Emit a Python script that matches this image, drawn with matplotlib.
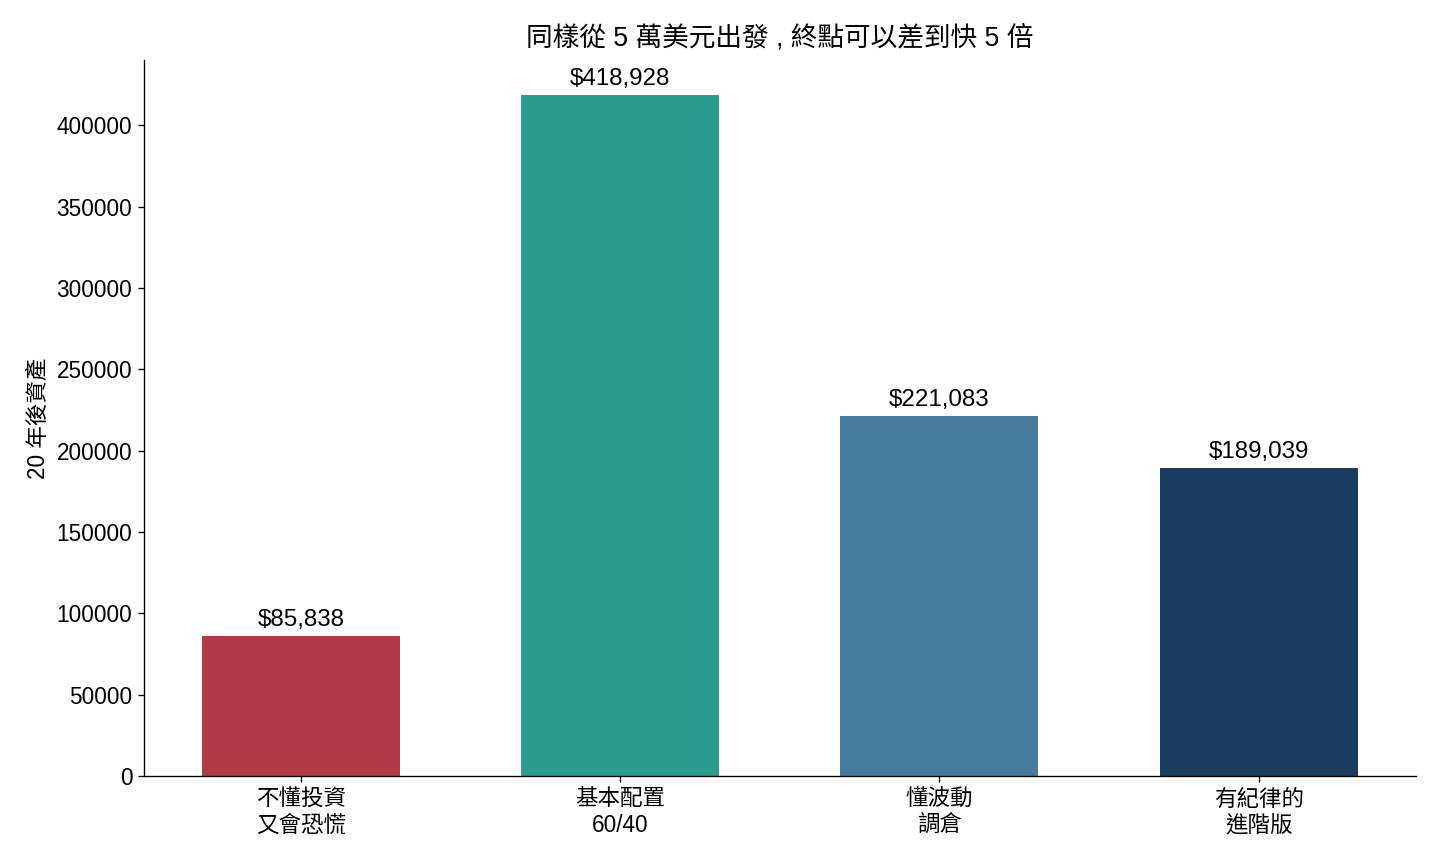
import matplotlib
matplotlib.use('Agg')
import matplotlib.pyplot as plt

plt.rcParams['font.family'] = ['Liberation Sans', 'Noto Sans CJK TC', 'DejaVu Sans']

labels = ['不懂投資\n又會恐慌', '基本配置\n60/40', '懂波動\n調倉', '有紀律的\n進階版']
values = [85838, 418928, 221083, 189039]
colors = ['#b23a48', '#2a9d8f', '#457b9d', '#1b3e5f']

fig, ax = plt.subplots(figsize=(12, 7.2), dpi=120)
bars = ax.bar(labels, values, width=0.62, color=colors)

for b, v in zip(bars, values):
    ax.annotate(f'${v:,}', (b.get_x() + b.get_width() / 2, v),
                xytext=(0, 3), textcoords='offset points',
                ha='center', va='bottom', fontsize=14.5)

ax.set_title('同樣從 5 萬美元出發 , 終點可以差到快 5 倍', fontsize=16, pad=9)
ax.set_ylabel('20 年後資產', fontsize=13.5)
ax.tick_params(labelsize=13.5)
ax.spines['top'].set_visible(False)
ax.spines['right'].set_visible(False)

fig.subplots_adjust(left=0.1, right=0.983, top=0.93, bottom=0.102)
fig.savefig('out.png')
